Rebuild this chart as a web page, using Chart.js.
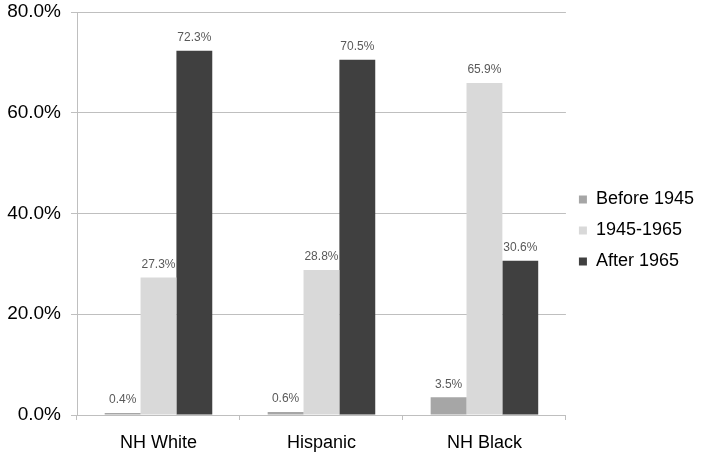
<!DOCTYPE html>
<html>
<head>
<meta charset="utf-8">
<script src="https://cdn.jsdelivr.net/npm/chart.js@4.4.1/dist/chart.umd.min.js"></script>
<style>
  html, body { margin: 0; padding: 0; background: #fff; }
  #wrap { width: 704px; height: 461px; position: relative; }
</style>
</head>
<body>
<div id="wrap"><canvas id="chart"></canvas></div>
<script>
// ===== 数据 =====
const CATEGORIES = ["NH White", "Hispanic", "NH Black"];
const BEFORE_1945 = [0.4, 0.6, 3.5];
const Y1945_1965  = [27.3, 28.8, 65.9];
const AFTER_1965  = [72.3, 70.5, 30.6];
const Y_TICKS = [0, 20, 40, 60, 80];

const FONT = "Arial, 'Liberation Sans', sans-serif";

// 柱顶数值标签
const barLabels = {
  id: "barLabels",
  afterDatasetsDraw(chart) {
    const ctx = chart.ctx;
    ctx.save();
    ctx.font = "12px " + FONT;
    ctx.fillStyle = "#595959";
    ctx.textAlign = "center";
    ctx.textBaseline = "bottom";
    chart.data.datasets.forEach((ds, i) => {
      chart.getDatasetMeta(i).data.forEach((bar, j) => {
        ctx.fillText(ds.data[j].toFixed(1) + "%", bar.x, bar.y - 7);
      });
    });
    ctx.restore();
  }
};

new Chart(document.getElementById("chart"), {
  type: "bar",
  data: {
    labels: CATEGORIES,
    datasets: [
      { label: "Before 1945", data: BEFORE_1945, backgroundColor: "#a6a6a6" },
      { label: "1945-1965",   data: Y1945_1965,  backgroundColor: "#d9d9d9" },
      { label: "After 1965",  data: AFTER_1965,  backgroundColor: "#404040" }
    ]
  },
  options: {
    responsive: true,
    maintainAspectRatio: false,
    animation: false,
    layout: { padding: { top: 0, right: 0, left: 0, bottom: 0 } },
    plugins: {
      legend: {
        position: "right",
        labels: {
          boxWidth: 8,
          boxHeight: 8,
          padding: 13,
          color: "#000",
          font: { family: FONT, size: 18 }
        }
      },
      tooltip: { enabled: false }
    },
    datasets: {
      bar: { categoryPercentage: 0.66, barPercentage: 1.0 }
    },
    scales: {
      x: {
        grid: { offset: true, drawOnChartArea: false, color: "#bfbfbf", tickLength: 5 },
        border: { color: "#bfbfbf" },
        ticks: { color: "#000", font: { family: FONT, size: 18 }, padding: 12 },
        afterFit: (s) => { s.height = 46; }
      },
      y: {
        min: 0,
        max: 80,
        afterBuildTicks: (s) => { s.ticks = Y_TICKS.map((v) => ({ value: v })); },
        grid: { color: "#bfbfbf", tickLength: 6 },
        border: { color: "#bfbfbf" },
        ticks: {
          color: "#000",
          font: { family: FONT, size: 19 },
          padding: 10,
          callback: (v) => v.toFixed(1) + "%"
        },
        afterFit: (s) => { s.width = 77; s.paddingTop = 12; }
      }
    }
  },
  plugins: [barLabels]
});
</script>
</body>
</html>
